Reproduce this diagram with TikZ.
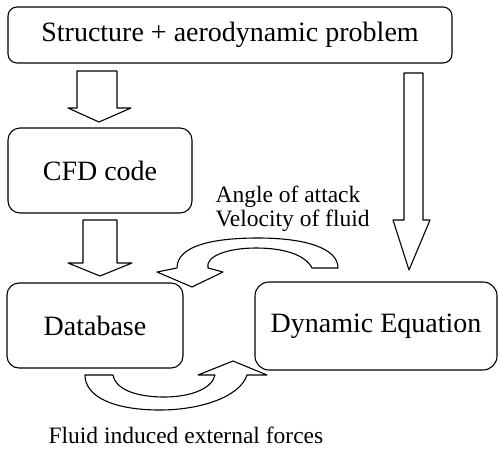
\documentclass[tikz,border=0pt]{standalone}
\usepackage{fontspec}
\setmainfont{Liberation Serif}
\begin{document}
\begin{tikzpicture}[x=1pt,y=-1pt,line width=1.1pt,line join=round,
  box/.style={draw,rounded corners=9pt,inner sep=0pt,font=\fontsize{28}{30}\selectfont},
  lbl/.style={inner sep=0pt,anchor=base west,font=\fontsize{23.5}{26}\selectfont}]
\useasboundingbox (0,0) rectangle (498,448);
\node[box,minimum width=444pt,minimum height=56pt] (top) at (230,35) {Structure + aerodynamic problem};
\node[box,rounded corners=12pt,minimum width=184pt,minimum height=85pt] (cfd) at (100,170.5) {CFD code};
\node[box,rounded corners=12pt,minimum width=176pt,minimum height=85pt] (db) at (95,325.5) {Database};
\node[box,rounded corners=14pt,minimum width=242pt,minimum height=88pt] (dyn) at (376,326) {Dynamic Equation};
\node[lbl] (l1) at (215,202) {Angle of attack};
\node[lbl] (l2) at (215,226) {Velocity of fluid};
\node[lbl] (l3) at (48,443) {Fluid induced external forces};
% block arrows
\draw (77,71) -- (117,71) -- (117,108) -- (131,108) -- (99,122) -- (68,108) -- (77,108) -- cycle;
\draw (83,220) -- (117,220) -- (117,263) -- (132,263) -- (100,276) -- (68,263) -- (83,263) -- cycle;
\draw (404,73) -- (423,73) -- (423,220) -- (430,220) -- (409,270) -- (393,220) -- (404,220) -- cycle;
% curved arrow top
\draw (177,268) .. controls (177,245) and (215,238) .. (258,238)
  .. controls (305,238) and (338,248) .. (338,268)
  -- (312,268) .. controls (305,254) and (282,248) .. (256,248)
  .. controls (228,248) and (205,256) .. (208,268)
  -- (223,272) -- (192,287) -- (157,272) -- cycle;
% curved arrow bottom
\draw (85,375) -- (113,375) .. controls (116,391) and (140,397) .. (164,397)
  .. controls (190,397) and (212,389) .. (215,375)
  -- (198,375) -- (233,361) -- (267,375) -- (247,375)
  .. controls (240,397) and (200,410) .. (160,410)
  .. controls (112,410) and (85,396) .. cycle;
\end{tikzpicture}
\end{document}
